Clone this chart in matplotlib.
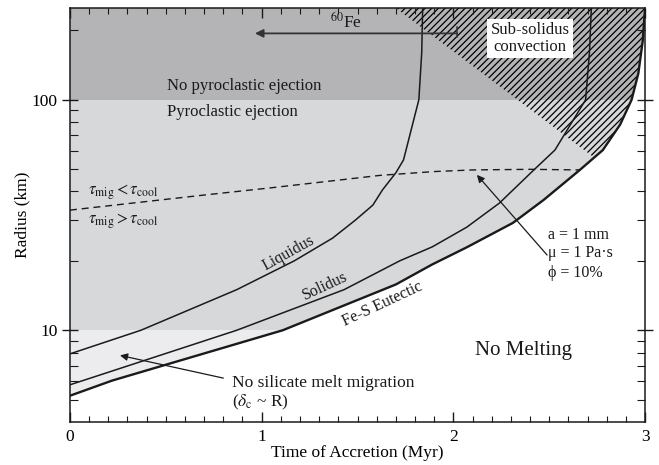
import numpy as np
import matplotlib
matplotlib.use("Agg")
import matplotlib.pyplot as plt
from matplotlib.patches import Polygon
from matplotlib.ticker import MultipleLocator, FixedLocator, NullFormatter

plt.rcParams['font.family'] = ['Liberation Serif', 'DejaVu Serif']
plt.rcParams['mathtext.fontset'] = 'stix'
plt.rcParams['hatch.linewidth'] = 0.9

# curves: time of accretion (Myr) vs radius (km)
eut_t = [0.0, 0.22, 1.11, 1.70, 1.89, 2.07, 2.31, 2.47, 2.66, 2.78, 2.87, 2.93, 2.965, 2.988, 3.0]
eut_R = [5.2, 6.05, 10.0, 15.8, 19.3, 22.9, 29.2, 36.7, 49.6, 60.5, 78, 100, 130, 180, 250]

sol_t = [0.0, 0.87, 1.43, 1.72, 1.89, 2.07, 2.24, 2.42, 2.53, 2.69, 2.71, 2.72]
sol_R = [5.8, 10.0, 15.0, 20.0, 23.0, 28.0, 35.6, 49.6, 60.5, 100, 160, 250]

liq_t = [0.0, 0.37, 0.87, 1.17, 1.37, 1.49, 1.58, 1.63, 1.70, 1.74, 1.82, 1.835, 1.84]
liq_R = [7.9, 10.0, 15.0, 20.0, 25.1, 30.1, 34.9, 40.6, 48.2, 54.8, 100, 160, 250]

# tau_mig = tau_cool boundary
tau_t = [0.0, 0.35, 0.7, 1.05, 1.36, 1.62, 1.9, 2.1, 2.4, 2.66]
tau_R = [33.2, 35.8, 38.6, 41.5, 44.4, 47.0, 48.8, 49.6, 49.9, 49.6]

# lower edge of the sub-solidus convection region
conv_t = [1.70, 2.73]
conv_R = [250, 56.5]

x_ticks = [0, 1, 2, 3]
x_labels = ['0', '1', '2', '3']
y_ticks = [10, 100]
y_labels = ['10', '100']
y_minor = [5, 6, 7, 8, 9, 20, 30, 40, 50, 60, 70, 80, 90, 200]

R_pyro = 100
R_mig = 10
xmin, xmax = 0, 3
ymin, ymax = 4, 250

dark = '#b4b4b7'
light = '#d7d8da'
lightest = '#ececee'
ink = '#1a1a1a'

fig = plt.figure(figsize=(6.59, 4.65), dpi=100)
ax = fig.add_axes([0.1062, 0.0925, 0.8726, 0.8903])
ax.set_yscale('log')
ax.set_xlim(xmin, xmax)
ax.set_ylim(ymin, ymax)

# melted region (left of the eutectic)
melt = Polygon(list(zip(eut_t, eut_R)) + [(xmin, ymax), (xmin, eut_R[0])],
               closed=True, fc=light, ec='none', zorder=0)
ax.add_patch(melt)
low = ax.axhspan(ymin, R_mig, fc=lightest, ec='none', zorder=0.5)
low.set_clip_path(melt)
high = ax.axhspan(R_pyro, ymax, fc=dark, ec='none', zorder=0.5)
high.set_clip_path(melt)

conv = Polygon(list(zip(conv_t, conv_R)) + [(xmax + 0.1, conv_R[1]), (xmax + 0.1, ymax)],
               closed=True, fill=False, hatch='/////', ec='black', lw=0, zorder=1)
ax.add_patch(conv)
conv.set_clip_path(melt)

ax.plot(liq_t, liq_R, color=ink, lw=1.1, zorder=3)
ax.plot(sol_t, sol_R, color=ink, lw=1.1, zorder=3)
ax.plot(eut_t, eut_R, color=ink, lw=1.7, zorder=3)
ax.plot(tau_t, tau_R, color=ink, lw=1.0, dashes=(5, 3.5), zorder=3)

# labels
ax.text(0.506, 115, 'No pyroclastic ejection', fontsize=12, va='center', color=ink)
ax.text(0.506, 88.7, 'Pyroclastic ejection', fontsize=12, va='center', color=ink)
ax.text(0.094, 39.8, r'$\tau_{\rm mig} < \tau_{\rm cool}$', fontsize=12, va='center', color=ink)
ax.text(0.094, 29.8, r'$\tau_{\rm mig} > \tau_{\rm cool}$', fontsize=12, va='center', color=ink)
ax.text(1.44, 218, r'$^{60}$Fe', fontsize=12.5, ha='center', va='center', color=ink)
ax.text(2.40, 184, 'Sub-solidus\nconvection', fontsize=12, ha='center', va='center',
        linespacing=1.05, color=ink,
        bbox=dict(fc='white', ec='none', pad=2.5), zorder=4)
ax.text(1.143, 21.6, 'Liquidus', fontsize=11.5, ha='center', va='center', rotation=29, color=ink)
ax.text(1.33, 15.6, 'Solidus', fontsize=11.5, ha='center', va='center', rotation=25, color=ink)
ax.text(1.633, 13.0, 'Fe-S Eutectic', fontsize=11.5, ha='center', va='center', rotation=25, color=ink)
ax.text(2.494, 25.9, 'a = 1 mm', fontsize=11.5, va='center', color=ink)
ax.text(2.494, 21.6, 'μ = 1 Pa·s', fontsize=11.5, va='center', color=ink)
ax.text(2.494, 17.7, 'ϕ = 10%', fontsize=11.5, va='center', color=ink)
ax.text(2.364, 8.2, 'No Melting', fontsize=15, ha='center', va='center', color=ink)
ax.text(0.845, 5.89, 'No silicate melt migration', fontsize=12.5, va='center', color=ink)
ax.text(0.845, 4.86, r'($\delta_{\rm c}$ ~ R)', fontsize=12.5, va='center', color=ink)

arrow = dict(arrowstyle='-|>', color=ink, lw=0.9, mutation_scale=11, shrinkA=0, shrinkB=0)
ax.annotate('', xy=(2.123, 47.2), xytext=(2.489, 21.2), arrowprops=arrow, zorder=5)
ax.annotate('', xy=(0.261, 7.78), xytext=(0.80, 6.2), arrowprops=arrow, zorder=5)
ax.annotate('', xy=(0.965, 194), xytext=(2.02, 194),
            arrowprops=dict(arrowstyle='-|>', color='#333333', lw=1.3, mutation_scale=12,
                            shrinkA=0, shrinkB=0), zorder=5)
ax.plot([2.02, 2.02], [187, 206], color='#333333', lw=1.1, zorder=5)

# axes
for s in ax.spines.values():
    s.set_linewidth(1.1)
    s.set_color(ink)
    s.set_zorder(6)

ax.set_xticks(x_ticks, x_labels)
ax.xaxis.set_minor_locator(MultipleLocator(0.1))
ax.set_yticks(y_ticks, y_labels)
ax.yaxis.set_minor_locator(FixedLocator(y_minor))
ax.yaxis.set_minor_formatter(NullFormatter())

ax.tick_params(axis='both', which='both', top=True, right=True, color=ink, labelsize=12.5)
ax.tick_params(axis='x', which='major', direction='in', length=7, width=1.0, pad=5)
ax.tick_params(axis='x', which='minor', direction='in', length=4, width=0.8)
ax.tick_params(axis='y', which='major', direction='inout', length=12, width=1.0, pad=3)
ax.tick_params(axis='y', which='minor', direction='in', length=6, width=0.8)

ax.set_xlabel('Time of Accretion (Myr)', fontsize=12.5, labelpad=0)
ax.set_ylabel('Radius (km)', fontsize=12.5, labelpad=1)

fig.savefig('out.png', dpi=100)
